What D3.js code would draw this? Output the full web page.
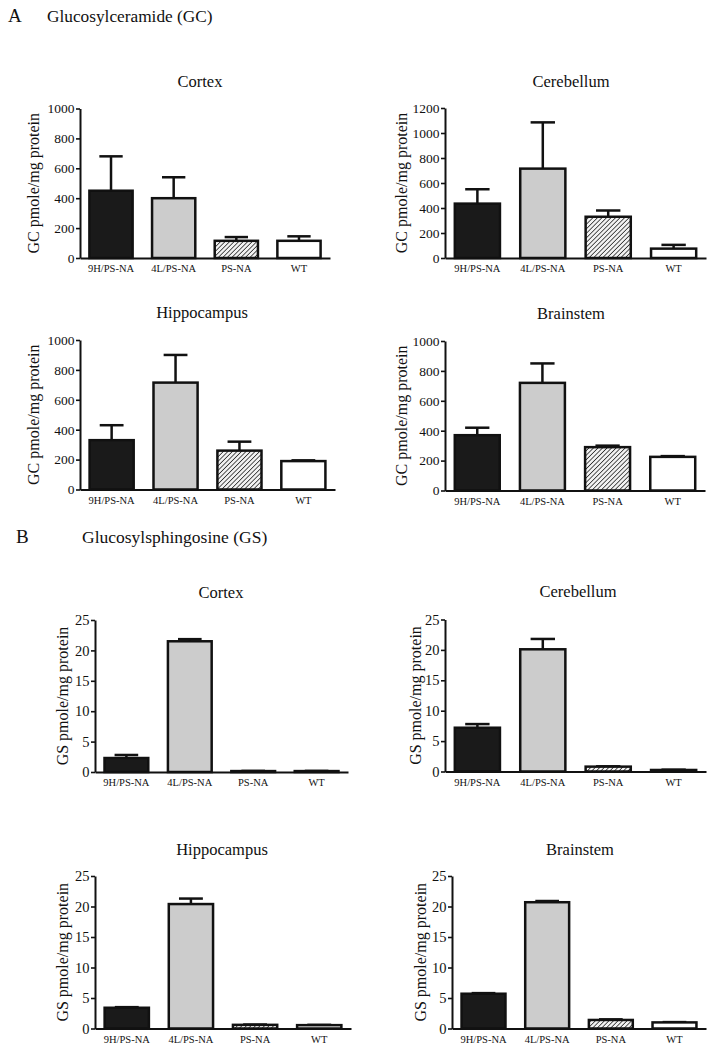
<!DOCTYPE html>
<html>
<head>
<meta charset="utf-8">
<script src="https://cdn.jsdelivr.net/npm/d3@7/dist/d3.min.js"></script>
<style>
  body { margin: 0; background: #fff; }
  svg { display: block; font-family: "Liberation Serif", "Times New Roman", serif; }
  svg text { font-family: "Liberation Serif", "Times New Roman", serif; }
</style>
</head>
<body>
<svg id="chart" width="716" height="1050"></svg>
<script>
// ---------------- DATA ----------------
const categories = ["9H/PS-NA", "4L/PS-NA", "PS-NA", "WT"];
const regions = ["Cortex", "Cerebellum", "Hippocampus", "Brainstem"];

// Glucosylceramide (GC), pmole/mg protein: means and SEM (upper error)
const gcCortex      = [450, 400, 115, 115];
const gcCortexErr   = [230, 140, 25, 30];
const gcCerebellum    = [435, 715, 330, 75];
const gcCerebellumErr = [115, 370, 50, 30];
const gcHippocampus    = [330, 715, 260, 190];
const gcHippocampusErr = [100, 185, 60, 5];
const gcBrainstem    = [370, 720, 290, 225];
const gcBrainstemErr = [50, 130, 10, 5];

// Glucosylsphingosine (GS), pmole/mg protein
const gsCortex      = [2.3, 21.5, 0.15, 0.15];
const gsCortexErr   = [0.5, 0.35, 0.03, 0.03];
const gsCerebellum    = [7.2, 20.1, 0.8, 0.25];
const gsCerebellumErr = [0.6, 1.7, 0.05, 0.05];
const gsHippocampus    = [3.4, 20.4, 0.6, 0.55];
const gsHippocampusErr = [0.1, 0.9, 0.05, 0.05];
const gsBrainstem    = [5.7, 20.7, 1.4, 1.0];
const gsBrainstemErr = [0.1, 0.2, 0.1, 0.05];

// Tick labels
const gcTicks = [0, 200, 400, 600, 800, 1000];
const gcTicksCerebellum = [0, 200, 400, 600, 800, 1000, 1200];
const gsTicks = [0, 5, 10, 15, 20, 25];

const sectionLetters = ["A", "B"];
const sectionTitles = ["Glucosylceramide (GC)", "Glucosylsphingosine (GS)"];
const yLabels = ["GC pmole/mg protein", "GS pmole/mg protein"];

// ---------------- PANELS (data wiring) ----------------
const panelData = [
  { section: 0, region: 0, mean: gcCortex, err: gcCortexErr, ticks: gcTicks },
  { section: 0, region: 1, mean: gcCerebellum, err: gcCerebellumErr, ticks: gcTicksCerebellum },
  { section: 0, region: 2, mean: gcHippocampus, err: gcHippocampusErr, ticks: gcTicks },
  { section: 0, region: 3, mean: gcBrainstem, err: gcBrainstemErr, ticks: gcTicks },
  { section: 1, region: 0, mean: gsCortex, err: gsCortexErr, ticks: gsTicks },
  { section: 1, region: 1, mean: gsCerebellum, err: gsCerebellumErr, ticks: gsTicks },
  { section: 1, region: 2, mean: gsHippocampus, err: gsHippocampusErr, ticks: gsTicks },
  { section: 1, region: 3, mean: gsBrainstem, err: gsBrainstemErr, ticks: gsTicks }
];

// ---------------- LAYOUT ----------------
const panelLayout = [
  { x0: 80,  x1: 330, yTop: 108.5, y0: 258,   labelX: 39,  titleX: 200, titleY: 87,  tickFont: 13.5 },
  { x0: 445, x1: 706, yTop: 108,   y0: 258,   labelX: 407, titleX: 571, titleY: 87,  tickFont: 13.5 },
  { x0: 80,  x1: 335, yTop: 340,   y0: 489.5, labelX: 39,  titleX: 202, titleY: 318, tickFont: 13.5 },
  { x0: 445, x1: 705, yTop: 341,   y0: 490.5, labelX: 407, titleX: 571, titleY: 319, tickFont: 13.5 },
  { x0: 95,  x1: 348, yTop: 620,   y0: 772,   labelX: 68,  titleX: 221, titleY: 598, tickFont: 14.5 },
  { x0: 445, x1: 706, yTop: 619.5, y0: 771.5, labelX: 421, titleX: 578, titleY: 597, tickFont: 14.5 },
  { x0: 95,  x1: 351, yTop: 876,   y0: 1028.5,labelX: 68,  titleX: 222, titleY: 855, tickFont: 14.5 },
  { x0: 452, x1: 706, yTop: 876,   y0: 1028.5,labelX: 426, titleX: 580, titleY: 855, tickFont: 14.5 }
];
const sectionLayout = [
  { letterX: 8,  letterY: 22,  letterSize: 19, titleX: 47, titleY: 22,  titleSize: 17.3 },
  { letterX: 16, letterY: 543, letterSize: 19, titleX: 82, titleY: 543, titleSize: 17.5 }
];
const fills = ["#1a1a1a", "#cccccc", "url(#hatch)", "#ffffff"];

// ---------------- DRAW ----------------
const FONT = "'Liberation Serif', 'Times New Roman', serif";
const svg = d3.select("#chart");
svg.append("rect").attr("width", 716).attr("height", 1050).attr("fill", "#fff");

const defs = svg.append("defs");
const pat = defs.append("pattern")
  .attr("id", "hatch").attr("patternUnits", "userSpaceOnUse")
  .attr("width", 3.2).attr("height", 3.2)
  .attr("patternTransform", "rotate(45)");
pat.append("rect").attr("width", 3.2).attr("height", 3.2).attr("fill", "#f2f2f2");
pat.append("line").attr("x1", 0).attr("y1", 0).attr("x2", 0).attr("y2", 3.2)
  .attr("stroke", "#222").attr("stroke-width", 1.5);

sectionLayout.forEach((s, i) => {
  svg.append("text").attr("x", s.letterX).attr("y", s.letterY)
    .attr("font-size", s.letterSize).attr("fill", "#111").text(sectionLetters[i]);
  svg.append("text").attr("x", s.titleX).attr("y", s.titleY)
    .attr("font-size", s.titleSize).attr("fill", "#111").text(sectionTitles[i]);
});

panelData.forEach((p, i) => {
  const L = panelLayout[i];
  const g = svg.append("g");
  const maxTick = p.ticks[p.ticks.length - 1];

  const y = d3.scaleLinear().domain([0, maxTick]).range([L.y0, L.yTop]);
  const x = d3.scaleBand().domain(categories).range([L.x0, L.x1])
    .paddingInner(0.31).paddingOuter(0.15);
  const bw = x.bandwidth();

  // title
  g.append("text").attr("x", L.titleX).attr("y", L.titleY)
    .attr("text-anchor", "middle").attr("font-size", 16.5).attr("fill", "#111")
    .text(regions[p.region]);

  // y label
  g.append("text")
    .attr("transform", `translate(${L.labelX},${(L.y0 + L.yTop) / 2}) rotate(-90)`)
    .attr("text-anchor", "middle").attr("font-size", 16).attr("fill", "#111")
    .text(yLabels[p.section]);

  const rows = categories.map((c, k) => ({ c, k, v: p.mean[k], e: p.err[k] }));

  // error bars (upper only)
  const eb = g.append("g").attr("stroke", "#111").attr("stroke-width", 2.5).attr("fill", "none");
  eb.selectAll("line.v").data(rows).join("line").attr("class", "v")
    .attr("x1", d => x(d.c) + bw / 2).attr("x2", d => x(d.c) + bw / 2)
    .attr("y1", d => y(d.v)).attr("y2", d => y(d.v + d.e));
  eb.selectAll("line.cap").data(rows).join("line").attr("class", "cap")
    .attr("x1", d => x(d.c) + bw / 2 - bw * 0.27).attr("x2", d => x(d.c) + bw / 2 + bw * 0.27)
    .attr("y1", d => y(d.v + d.e)).attr("y2", d => y(d.v + d.e));

  // bars
  g.append("g").selectAll("rect").data(rows).join("rect")
    .attr("x", d => x(d.c)).attr("width", bw)
    .attr("y", d => y(d.v)).attr("height", d => L.y0 - y(d.v))
    .attr("fill", d => fills[d.k]).attr("stroke", "#111").attr("stroke-width", 2.5);

  // y axis
  const ya = g.append("g").attr("transform", `translate(${L.x0},0)`)
    .call(d3.axisLeft(y).tickValues(p.ticks).tickSize(4).tickPadding(1.5).tickSizeOuter(0)
      .tickFormat(d3.format("d")));
  ya.attr("font-family", null).attr("font-size", null);
  ya.select(".domain").attr("stroke", "#111").attr("stroke-width", 2);
  ya.selectAll(".tick line").attr("stroke", "#111").attr("stroke-width", 1.6);
  ya.selectAll(".tick text").attr("font-size", L.tickFont).attr("fill", "#111")
    .style("font-family", FONT);

  // x axis
  const xa = g.append("g").attr("transform", `translate(0,${L.y0})`)
    .call(d3.axisBottom(x).tickSize(0).tickPadding(7).tickSizeOuter(0));
  xa.attr("font-family", null).attr("font-size", null);
  xa.select(".domain").attr("stroke", "#111").attr("stroke-width", 2);
  xa.selectAll(".tick text").attr("font-size", 10.5).attr("fill", "#111")
    .style("font-family", FONT);
});
</script>
</body>
</html>
